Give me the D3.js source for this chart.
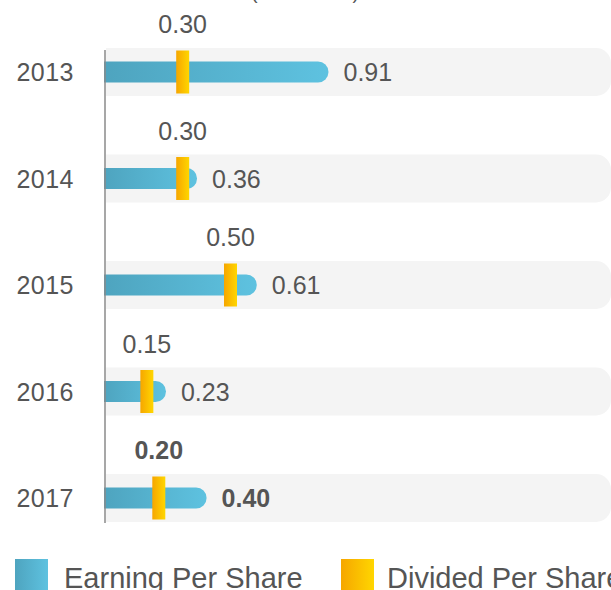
<!DOCTYPE html>
<meta charset="utf-8">
<style>
body { margin: 0; background: #fff; }
text { font-family: "Liberation Sans", Arial, sans-serif; fill: #555; }
</style>
<body>
<script src="https://d3js.org/d3.v7.min.js"></script>
<script>

// data
var years = ["2013", "2014", "2015", "2016", "2017"];
var eps = [0.91, 0.36, 0.61, 0.23, 0.40];
var dps = [0.30, 0.30, 0.50, 0.15, 0.20];
var legendLabels = ["Earning Per Share", "Divided Per Share"];

var width = 611, height = 590;

var svg = d3.select("body").append("svg")
    .attr("width", width)
    .attr("height", height);

// gradients for the bars and the dividend markers
var defs = svg.append("defs");
function grad(id, c0, c1) {
  var g = defs.append("linearGradient").attr("id", id)
      .attr("x1", "0%").attr("x2", "100%").attr("y1", "0%").attr("y2", "0%");
  g.append("stop").attr("offset", "0%").attr("stop-color", c0);
  g.append("stop").attr("offset", "100%").attr("stop-color", c1);
}
grad("epsGrad", "#4ea4bf", "#5ec2e0");
grad("dpsGrad", "#f6a600", "#ffd600");

// scales
var x = d3.scaleLinear().domain([0, 1]).range([111, 350]);
var y = d3.scalePoint().domain(years).range([72, 498]);

var axisX = 105;
var bandH = 48, barH = 21, markW = 13, markH = 43;

// rect with rounded right side only
function rightRound(x0, y0, w, h, r) {
  return "M" + x0 + "," + y0 +
    "H" + (x0 + w - r) +
    "A" + r + "," + r + " 0 0 1 " + (x0 + w) + "," + (y0 + r) +
    "V" + (y0 + h - r) +
    "A" + r + "," + r + " 0 0 1 " + (x0 + w - r) + "," + (y0 + h) +
    "H" + x0 + "Z";
}

// cut-off subtitle at the very top
svg.append("text")
    .attr("x", 305).attr("y", -1)
    .attr("text-anchor", "middle")
    .style("font-size", "19px")
    .text("(Baht/Share)");

var rows = svg.selectAll(".row")
    .data(years)
    .enter().append("g")
    .attr("class", "row");

// grey background band
rows.append("path")
    .attr("fill", "#f4f4f4")
    .attr("d", function(d) {
      return rightRound(axisX + 1, y(d) - bandH / 2, width - axisX - 1, bandH, 15);
    });

// EPS bar
rows.append("path")
    .attr("fill", "url(#epsGrad)")
    .attr("d", function(d, i) {
      return rightRound(axisX - 1, y(d) - barH / 2, x(eps[i]) - axisX + 1, barH, barH / 2);
    });

// dividend marker
rows.append("rect")
    .attr("fill", "url(#dpsGrad)")
    .attr("x", function(d, i) { return x(dps[i]) - markW / 2; })
    .attr("y", function(d) { return y(d) - markH / 2; })
    .attr("width", markW)
    .attr("height", markH);

// year labels
rows.append("text")
    .attr("x", 74)
    .attr("y", function(d) { return y(d) + 9; })
    .attr("text-anchor", "end")
    .style("font-size", "25px")
    .style("letter-spacing", "0.5px")
    .text(function(d) { return d; });

// EPS values
rows.append("text")
    .attr("x", function(d, i) { return x(eps[i]) + 15; })
    .attr("y", function(d) { return y(d) + 9; })
    .style("font-size", "25px")
    .style("font-weight", function(d, i) { return i === years.length - 1 ? "bold" : "normal"; })
    .text(function(d, i) { return eps[i].toFixed(2); });

// dividend values
rows.append("text")
    .attr("x", function(d, i) { return x(dps[i]); })
    .attr("y", function(d) { return y(d) - 39; })
    .attr("text-anchor", "middle")
    .style("font-size", "25px")
    .style("font-weight", function(d, i) { return i === years.length - 1 ? "bold" : "normal"; })
    .text(function(d, i) { return dps[i].toFixed(2); });

// axis line
svg.append("line")
    .attr("x1", axisX).attr("x2", axisX)
    .attr("y1", y(years[0]) - 22).attr("y2", y(years[years.length - 1]) + 25)
    .attr("stroke", "#8a8a8a")
    .attr("stroke-width", 1.5);

// legend
var legend = svg.selectAll(".legend")
    .data(legendLabels)
    .enter().append("g")
    .attr("class", "legend")
    .attr("transform", function(d, i) { return "translate(" + (i === 0 ? 15 : 341) + ",559)"; });

legend.append("rect")
    .attr("width", 33).attr("height", 33)
    .attr("fill", function(d, i) { return i === 0 ? "url(#epsGrad)" : "url(#dpsGrad)"; });

legend.append("text")
    .attr("x", function(d, i) { return i === 0 ? 49 : 46; })
    .attr("y", 29)
    .style("font-size", "29px")
    .text(function(d) { return d; });

</script>
</body>
